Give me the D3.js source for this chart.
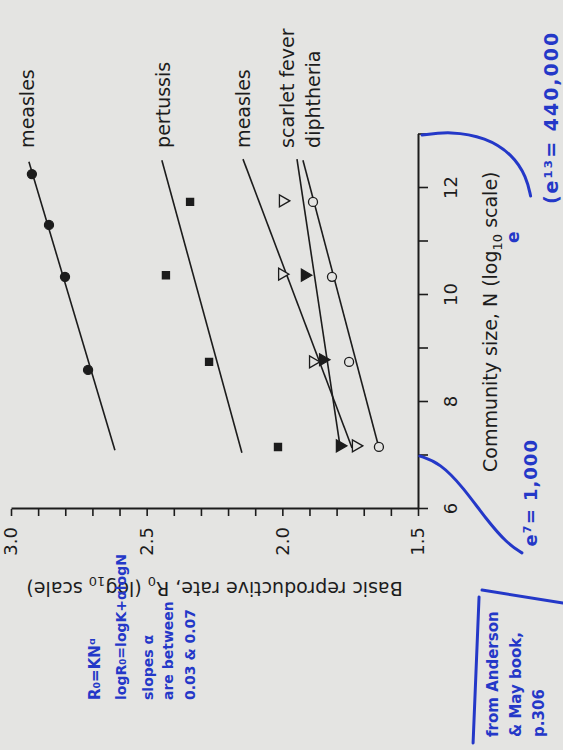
<!DOCTYPE html>
<meta charset="utf-8">
<script src="https://d3js.org/d3.v7.min.js"></script>
<style>
  body { margin: 0; background: #e4e4e2; }
  svg { display: block; }
  text { font-family: "DejaVu Sans", sans-serif; fill: #1c1c1c; }
  .axis path, .axis line { stroke: #1c1c1c; }
  .axis text { font-size: 18px; fill: #1c1c1c; }
  .note { font-weight: bold; fill: #2438c8; }
</style>
<div id="chart"></div>
<script>
// community size N (log_e) and basic reproductive rate R0
var measlesN   = [8.60, 10.34, 11.31, 12.26];
var measlesR   = [2.716, 2.801, 2.860, 2.923];
var pertussisN = [7.16, 8.75, 10.37, 11.74];
var pertussisR = [2.016, 2.270, 2.429, 2.340];
var measles2N  = [7.18, 8.75, 10.39, 11.76];
var measles2R  = [1.729, 1.887, 2.001, 1.998];
var scarletN   = [7.18, 8.79, 10.37];
var scarletR   = [1.788, 1.850, 1.917];
var diphN      = [7.16, 8.75, 10.34, 11.74];
var diphR      = [1.644, 1.754, 1.817, 1.887];

// fitted lines, [start, end] in N and in R0, and where each label sits
var diseases = ["measles", "pertussis", "measles", "scarlet fever", "diphtheria"];
var fitN = [[7.10, 12.49], [7.05, 12.52], [7.14, 12.54], [7.20, 12.54], [7.20, 12.52]];
var fitR = [[2.617, 2.934], [2.149, 2.444], [1.743, 2.145], [1.788, 1.946], [1.647, 1.924]];
var labelN = 12.75;
var labelR = [2.941, 2.440, 2.145, 1.983, 1.887];

var xTickLabels = [6, 8, 10, 12];
var yTickLabels = [1.5, 2.0, 2.5, 3.0];

var series = [
  {n: measlesN,   r: measlesR,   mark: "dot"},
  {n: pertussisN, r: pertussisR, mark: "square"},
  {n: measles2N,  r: measles2R,  mark: "openTri"},
  {n: scarletN,   r: scarletR,   mark: "tri"},
  {n: diphN,      r: diphR,      mark: "openDot"}
];

var W = 563, H = 750, ink = "#1c1c1c", paper = "#e4e4e2", blue = "#2438c8";

var svg = d3.select("#chart").append("svg")
    .attr("width", W)
    .attr("height", H);
svg.append("rect").attr("width", W).attr("height", H).attr("fill", paper);

// the page is printed a quarter turn round: draw the chart upright in g, then turn g
var g = svg.append("g")
    .attr("transform", "translate(0," + H + ") rotate(-90)");

var x = d3.scaleLinear().domain([6, 13]).range([241, 615.5]);
var y = d3.scaleLinear().domain([1.5, 3.0]).range([418, 11]);

// axes
var xAxis = g.append("g")
    .attr("class", "axis")
    .attr("transform", "translate(0," + y(1.5) + ")")
    .call(d3.axisBottom(x)
      .tickValues(d3.range(6, 14))
      .tickSize(10).tickSizeOuter(0).tickPadding(16)
      .tickFormat(d => xTickLabels.indexOf(d) >= 0 ? d : ""));

var yAxis = g.append("g")
    .attr("class", "axis")
    .attr("transform", "translate(" + x(6) + ",0)")
    .call(d3.axisLeft(y)
      .tickValues(d3.range(15, 31).map(d => d / 10))
      .tickSize(7).tickSizeOuter(0).tickPadding(11)
      .tickFormat(d => yTickLabels.indexOf(d) >= 0 ? d3.format(".1f")(d) : ""));

g.selectAll(".axis path").attr("stroke-width", 2);
g.selectAll(".axis line").attr("stroke-width", 1.6);

// axis titles
var xt = g.append("text")
    .attr("x", x(9.5))
    .attr("y", 497)
    .attr("text-anchor", "middle")
    .attr("font-size", "19px");
xt.append("tspan").text("Community size, N (log");
xt.append("tspan").attr("font-size", "13px").attr("dy", 5).text("10");
xt.append("tspan").attr("dy", -5).text(" scale)");

var yt = g.append("text")
    .attr("transform", "translate(168," + y(2.25) + ") rotate(-90)")
    .attr("text-anchor", "middle")
    .attr("font-size", "19px");
yt.append("tspan").text("Basic reproductive rate, R");
yt.append("tspan").attr("font-size", "13px").attr("dy", 5).text("0");
yt.append("tspan").attr("dy", -5).text(" (log");
yt.append("tspan").attr("font-size", "13px").attr("dy", 5).text("10");
yt.append("tspan").attr("dy", -5).text(" scale)");

// fitted lines
var line = d3.line().x(d => x(d[0])).y(d => y(d[1]));
g.selectAll(".fit")
  .data(diseases)
  .enter().append("path")
    .attr("class", "fit")
    .attr("d", (d, i) => line([[fitN[i][0], fitR[i][0]], [fitN[i][1], fitR[i][1]]]))
    .attr("fill", "none")
    .attr("stroke", ink)
    .attr("stroke-width", 1.6);

// line labels
g.selectAll(".lab")
  .data(diseases)
  .enter().append("text")
    .attr("class", "lab")
    .attr("x", x(labelN))
    .attr("y", (d, i) => y(labelR[i]))
    .attr("dy", "0.35em")
    .attr("font-size", "19px")
    .text(d => d);

// data points
var shapes = {
  dot:     {type: d3.symbolCircle,   size: 64, fill: ink,   turn: 0},
  square:  {type: d3.symbolSquare,   size: 50, fill: ink,   turn: 0},
  openTri: {type: d3.symbolTriangle, size: 62, fill: paper, turn: 180},
  tri:     {type: d3.symbolTriangle, size: 62, fill: ink,   turn: 180},
  openDot: {type: d3.symbolCircle,   size: 64, fill: paper, turn: 0}
};

series.forEach(function(s) {
  var sh = shapes[s.mark];
  g.selectAll(null)
    .data(s.n.map((n, i) => [n, s.r[i]]))
    .enter().append("path")
      .attr("d", d3.symbol().type(sh.type).size(sh.size))
      .attr("transform", d => "translate(" + x(d[0]) + "," + y(d[1]) + ") rotate(" + sh.turn + ")")
      .attr("fill", sh.fill)
      .attr("stroke", ink)
      .attr("stroke-width", 1.3);
});

// pen notes written on the page, placed in the chart's own units
var notes = [
  {t: "R₀=KNᵅ",            n: 2.43,  r: 2.672, fs: 15, ls: 0},
  {t: "logR₀=logK+αlogN",  n: 2.43,  r: 2.576, fs: 14, ls: 0},
  {t: "slopes α",          n: 2.43,  r: 2.477, fs: 14, ls: 0},
  {t: "are between",       n: 2.43,  r: 2.403, fs: 14, ls: 0},
  {t: "0.03 & 0.07",       n: 2.43,  r: 2.322, fs: 14, ls: 0},
  {t: "from Anderson",     n: 1.74,  r: 1.205, fs: 15, ls: 0},
  {t: "& May book,",       n: 1.74,  r: 1.120, fs: 15, ls: 0},
  {t: "p.306",             n: 1.74,  r: 1.036, fs: 15, ls: 0},
  {t: "e⁷= 1,000",         n: 5.30,  r: 1.061, fs: 18, ls: 1},
  {t: "(e¹³= 440,000",     n: 11.70, r: 0.984, fs: 19, ls: 2},
  {t: "e",                 n: 10.97, r: 1.128, fs: 17, ls: 0}
];

g.selectAll(".note")
  .data(notes)
  .enter().append("text")
    .attr("class", "note")
    .attr("x", d => x(d.n))
    .attr("y", d => y(d.r))
    .attr("font-size", d => d.fs + "px")
    .attr("letter-spacing", d => d.ls)
    .text(d => d.t);

var pen = [
  [[6.99, 1.493], [6.86, 1.419], [6.41, 1.334], [5.79, 1.246], [5.36, 1.172], [5.18, 1.117]],
  [[12.99, 1.485], [13.06, 1.382], [12.95, 1.250], [12.62, 1.150], [12.20, 1.100], [11.85, 1.085]],
  [[4.355, 1.275], [1.626, 1.297]],
  [[4.486, 1.264], [4.243, 0.966]]
];

var penLine = d3.line().x(d => x(d[0])).y(d => y(d[1])).curve(d3.curveBasis);
g.selectAll(".pen")
  .data(pen)
  .enter().append("path")
    .attr("class", "pen")
    .attr("d", penLine)
    .attr("fill", "none")
    .attr("stroke", blue)
    .attr("stroke-width", 3)
    .attr("stroke-linecap", "round");
</script>
